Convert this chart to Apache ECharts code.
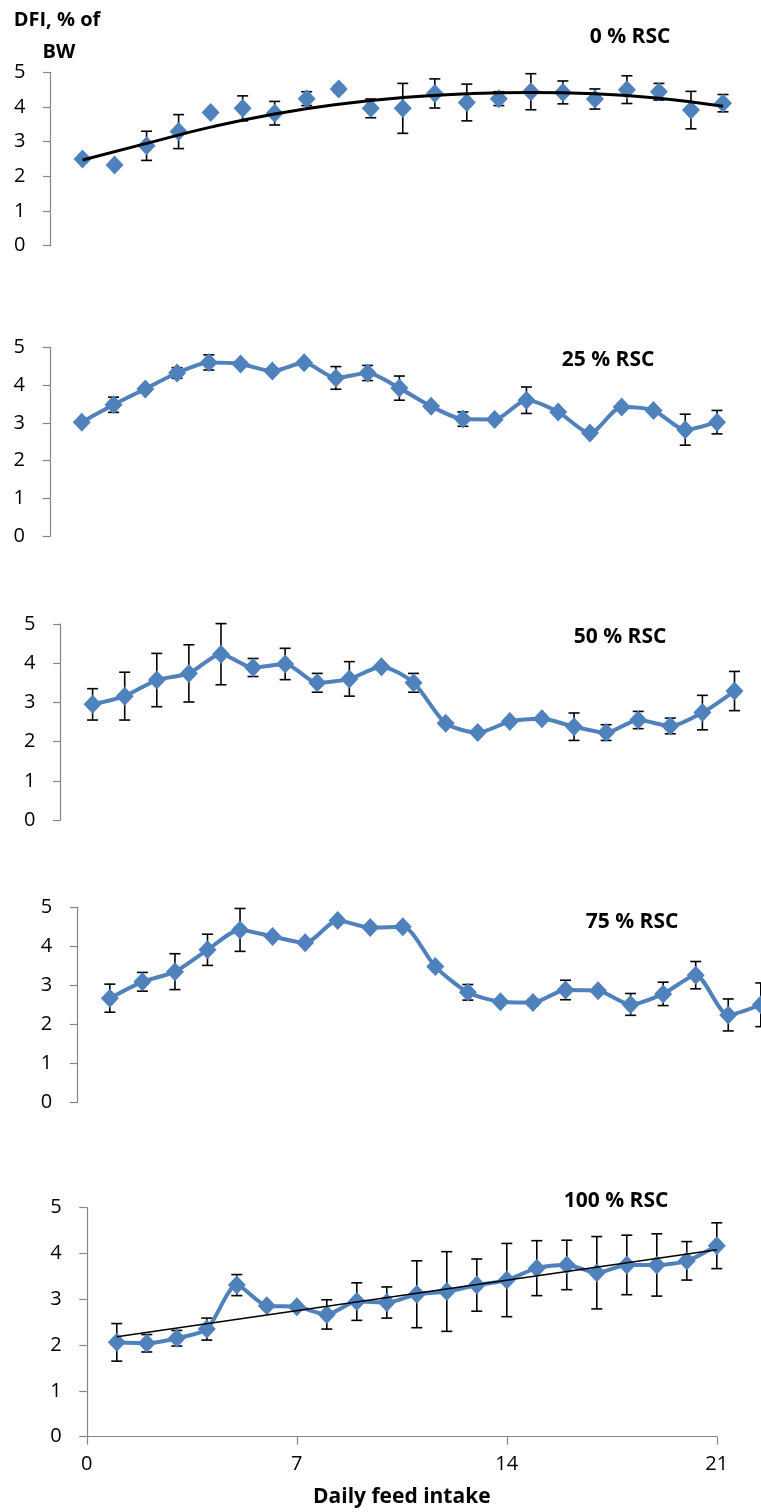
<!DOCTYPE html>
<html><head><meta charset="utf-8">
<script src="https://cdn.jsdelivr.net/npm/echarts@6/dist/echarts.min.js"></script>
<style>html,body{margin:0;padding:0;background:#fff}#c{width:761px;height:1512px}</style>
</head><body><div id="c"></div>
<script>
// ---- data ----
const days = [1,2,3,4,5,6,7,8,9,10,11,12,13,14,15,16,17,18,19,20,21];
const xTickLabels = [0,7,14,21];
const yTickLabels = [0,1,2,3,4,5];
const panelTitles = ['0 % RSC','25 % RSC','50 % RSC','75 % RSC','100 % RSC'];
const yAxisName = ['DFI, % of','BW'];
const xAxisName = 'Daily feed intake';

const rsc0     = [2.50,2.33,2.88,3.29,3.84,3.96,3.82,4.24,4.52,3.96,3.96,4.39,4.13,4.24,4.44,4.42,4.23,4.50,4.44,3.91,4.11];
const rsc0Err  = [0,0,0.42,0.49,0,0.36,0.34,0.2,0.1,0.27,0.72,0.42,0.53,0.2,0.52,0.33,0.29,0.4,0.24,0.54,0.25];
const rsc25    = [3.02,3.48,3.90,4.32,4.60,4.56,4.37,4.59,4.19,4.32,3.92,3.44,3.10,3.09,3.60,3.29,2.73,3.42,3.33,2.82,3.02];
const rsc25Err = [0,0.2,0,0.14,0.2,0,0,0,0.3,0.2,0.32,0,0.19,0,0.35,0,0,0,0,0.41,0.31];
const rsc50    = [2.95,3.16,3.57,3.74,4.23,3.89,3.98,3.50,3.60,3.91,3.50,2.47,2.23,2.51,2.58,2.38,2.23,2.55,2.40,2.74,3.29];
const rsc50Err = [0.4,0.61,0.68,0.73,0.78,0.23,0.4,0.24,0.44,0,0.24,0,0,0,0,0.35,0.2,0.22,0.2,0.44,0.5];
const rsc75    = [2.67,3.09,3.35,3.91,4.42,4.25,4.09,4.66,4.48,4.50,3.48,2.82,2.58,2.56,2.88,2.86,2.51,2.78,3.26,2.24,2.50];
const rsc75Err = [0.36,0.24,0.46,0.4,0.55,0,0,0,0,0.07,0,0.2,0,0.08,0.25,0,0.28,0.3,0.35,0.41,0.56];
const rsc100   = [2.06,2.04,2.15,2.35,3.31,2.86,2.84,2.67,2.95,2.93,3.11,3.17,3.31,3.42,3.68,3.75,3.58,3.75,3.75,3.84,4.17];
const rsc100Err= [0.41,0.19,0.17,0.24,0.23,0,0,0.32,0.41,0.34,0.73,0.87,0.57,0.8,0.6,0.54,0.79,0.65,0.68,0.42,0.5];

const trend0Days   = [1,3,5,7,9,11,13,15,17,19,21];
const trend0       = [2.47,2.95,3.42,3.80,4.08,4.27,4.38,4.42,4.38,4.25,4.02];
const trend100Days = [1,21];
const trend100     = [2.18,4.08];

// ---- layout ----
const FONT = "'Open Sans', sans-serif";
const BLUE = '#4F81BD';
const AX = '#868686';
const grids = [
  {left:50.5, top:72.3,  width:672.5, height:173.4},
  {left:50,   top:347.3, width:667,   height:189},
  {left:60.5, top:624,   width:674,   height:196},
  {left:77.3, top:907.3, width:683.5, height:195},
  {left:86.8, top:1207.7,width:630,   height:229}
];
const titlePos = [[630,37],[608,360],[620,637],[632,922],[616,1201]];
const seriesVals = [rsc0,rsc25,rsc50,rsc75,rsc100];
const seriesErrs = [rsc0Err,rsc25Err,rsc50Err,rsc75Err,rsc100Err];

function errItem(params, api){
  const x = api.value(0), y = api.value(1), e = api.value(2);
  if (!e) return null;
  const t = api.coord([x, y + e]), b = api.coord([x, y - e]);
  const w = 5.5, st = {stroke:'#000', lineWidth:1.6};
  return {type:'group', children:[
    {type:'line', shape:{x1:t[0],y1:t[1],x2:b[0],y2:b[1]}, style:st},
    {type:'line', shape:{x1:t[0]-w,y1:t[1],x2:t[0]+w,y2:t[1]}, style:st},
    {type:'line', shape:{x1:b[0]-w,y1:b[1],x2:b[0]+w,y2:b[1]}, style:st}
  ]};
}

const xAxes = [], yAxes = [], series = [];
grids.forEach((g, i) => {
  const last = i === 4;
  xAxes.push({
    type:'value', gridIndex:i, min:0, max:21, interval:7, show:last,
    axisLine:{show:true, lineStyle:{color:AX, width:1.2}},
    axisTick:{show:true, inside:false, length:8, lineStyle:{color:AX, width:1.2}},
    axisLabel:{show:true, color:'#000', fontSize:20, fontFamily:FONT, margin:18,
      formatter: v => xTickLabels.includes(v) ? String(v) : ''},
    splitLine:{show:false},
    name: last ? xAxisName : '', nameLocation:'middle', nameGap:50,
    nameTextStyle:{color:'#000', fontSize:21, fontWeight:'bold', fontFamily:FONT}
  });
  yAxes.push({
    type:'value', gridIndex:i, min:0, max:5, interval:1,
    axisLine:{show:true, lineStyle:{color:AX, width:1.2}},
    axisTick:{show:true, inside:false, length:7.5, lineStyle:{color:AX, width:1.2}},
    axisLabel:{color:'#000', fontSize:20, fontFamily:FONT, margin:25,
      formatter: v => yTickLabels.includes(v) ? String(v) : ''},
    splitLine:{show:false}
  });
  const vals = seriesVals[i], errs = seriesErrs[i];
  series.push({
    type:'custom', xAxisIndex:i, yAxisIndex:i, renderItem:errItem, clip:false, z:1,
    data: days.map((d,k) => [d, vals[k], errs[k]]), silent:true
  });
  if (i === 0) {
    series.push({
      type:'scatter', xAxisIndex:i, yAxisIndex:i, symbol:'diamond', symbolSize:[18,19],
      itemStyle:{color:BLUE, opacity:1}, z:3, data: days.map((d,k) => [d, vals[k]])
    });
    series.push({
      type:'line', xAxisIndex:i, yAxisIndex:i, smooth:true, showSymbol:false, symbol:'none',
      lineStyle:{color:'#000', width:3}, z:4,
      data: trend0Days.map((d,k) => [d, trend0[k]])
    });
  } else {
    series.push({
      type:'line', xAxisIndex:i, yAxisIndex:i, smooth:0.25, symbol:'diamond', symbolSize:[18,19],
      showAllSymbol:true, clip:false,
      lineStyle:{color:BLUE, width:4}, itemStyle:{color:BLUE, opacity:1}, z:3,
      data: days.map((d,k) => [d, vals[k]])
    });
  }
  if (i === 4) {
    series.push({
      type:'line', xAxisIndex:i, yAxisIndex:i, symbol:'none',
      lineStyle:{color:'#000', width:1.5}, z:4,
      data: trend100Days.map((d,k) => [d, trend100[k]])
    });
  }
});

const gText = [];
panelTitles.forEach((t,i) => gText.push({type:'text', x:titlePos[i][0], y:titlePos[i][1],
  style:{text:t, textAlign:'center', textVerticalAlign:'middle', fill:'#000', font:"bold 21px 'Open Sans', sans-serif"}}));
gText.push({type:'text', x:57, y:20, style:{text:yAxisName[0], textAlign:'center', textVerticalAlign:'middle', fill:'#000', font:"bold 20px 'Open Sans', sans-serif"}});
gText.push({type:'text', x:59, y:52, style:{text:yAxisName[1], textAlign:'center', textVerticalAlign:'middle', fill:'#000', font:"bold 20px 'Open Sans', sans-serif"}});

const chart = echarts.init(document.getElementById('c'), null, {renderer:'canvas'});
chart.setOption({
  animation:false,
  backgroundColor:'#fff',
  grid: grids,
  xAxis: xAxes,
  yAxis: yAxes,
  series: series,
  graphic: gText
});
</script></body></html>
